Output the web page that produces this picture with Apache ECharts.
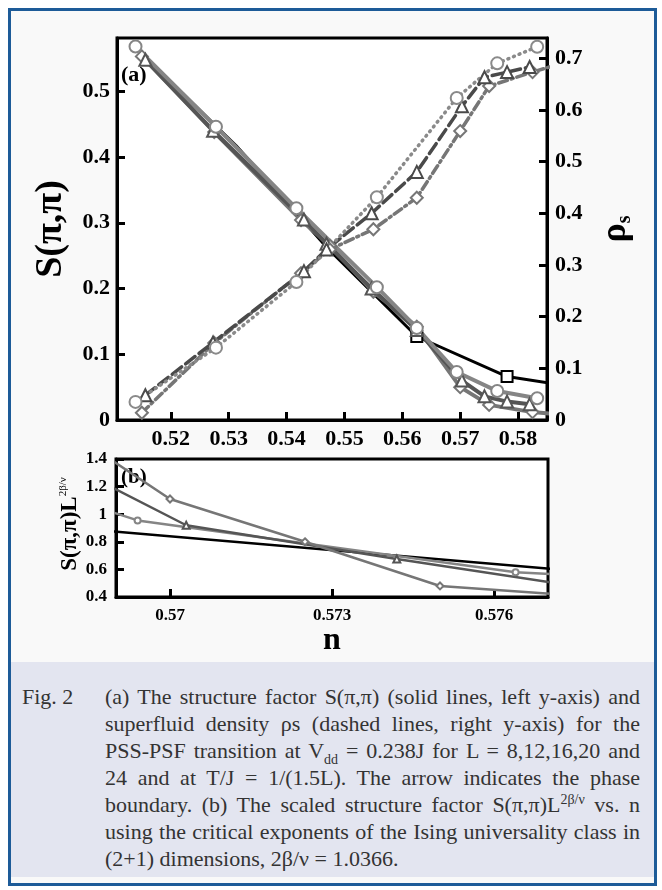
<!DOCTYPE html>
<html>
<head>
<meta charset="utf-8">
<script src="https://cdn.jsdelivr.net/npm/echarts@6/dist/echarts.min.js"></script>
<style>
  html, body { margin: 0; padding: 0; background: #fff; }
  #frame { position: absolute; left: 8px; top: 8px; width: 643px; height: 872px; border: 3px solid #1d5b98; background: #f9f9f9; }
  #chart { position: absolute; left: 0; top: 0; width: 662px; height: 662px; }
  #caption {
    position: absolute; left: 11px; top: 662px; width: 643px; height: 215px;
    background: #e3e5f0; color: #333;
    font-family: 'Liberation Serif', 'Times New Roman', serif; font-size: 22px; line-height: 27px;
  }
  #caption .fig { position: absolute; left: 11px; top: 21px; }
  #caption .body { position: absolute; left: 94px; top: 21px; width: 535px; }
  #caption .ln { text-align: justify; text-align-last: justify; white-space: nowrap; }
  #caption .ln.last { text-align-last: left; }
  #caption sub { font-size: 14px; line-height: 0; vertical-align: -6px; }
  #caption sup { font-size: 14px; line-height: 0; vertical-align: 8px; }
</style>
</head>
<body>
<div id="frame"></div>
<div id="chart"></div>
<div id="caption">
  <div class="fig">Fig. 2</div>
  <div class="body">
    <div class="ln">(a) The structure factor S(π,π) (solid lines, left y-axis) and</div>
    <div class="ln">superfluid density ρs (dashed lines, right y-axis) for the</div>
    <div class="ln">PSS-PSF transition at V<sub>dd</sub> = 0.238J for L = 8,12,16,20 and</div>
    <div class="ln">24 and at T/J = 1/(1.5L). The arrow indicates the phase</div>
    <div class="ln">boundary. (b) The scaled structure factor S(π,π)L<sup>2β/ν</sup> vs. n</div>
    <div class="ln">using the critical exponents of the Ising universality class in</div>
    <div class="ln last">(2+1) dimensions, 2β/ν = 1.0366.</div>
  </div>
</div>
<script>
// panel (a): filling n, structure factor S(pi,pi), superfluid density rho_s
const nL8 = [0.5156, 0.5313, 0.5469, 0.5625, 0.5781, 0.5938]
const sL8 = [0.552, 0.417, 0.263, 0.127, 0.066, 0.045]

const nL12 = [0.5139, 0.5278, 0.5417, 0.5556, 0.5625, 0.5694, 0.5764, 0.5833]
const sL12 = [0.568, 0.446, 0.322, 0.202, 0.140, 0.073, 0.044, 0.033]
const nRhoL12 = [0.5139, 0.5278, 0.5417, 0.5556, 0.5694, 0.5764, 0.5833]
const rhoL12 = [0.035, 0.140, 0.267, 0.431, 0.623, 0.690, 0.722]

const nL16 = [0.5156, 0.5273, 0.5430, 0.5469, 0.5547, 0.5625, 0.5703, 0.5742, 0.5781, 0.5820]
const sL16 = [0.548, 0.440, 0.305, 0.268, 0.200, 0.137, 0.060, 0.036, 0.028, 0.024]
const rhoL16 = [0.048, 0.150, 0.288, 0.330, 0.400, 0.480, 0.607, 0.663, 0.673, 0.683]

const nL20 = [0.5150, 0.5275, 0.5425, 0.5475, 0.5550, 0.5625, 0.5700, 0.5750, 0.5825, 0.5875]
const sL20 = [0.553, 0.438, 0.304, 0.265, 0.195, 0.142, 0.050, 0.023, 0.012, 0.008]
const rhoL20 = [0.014, 0.149, 0.284, 0.330, 0.369, 0.430, 0.559, 0.646, 0.673, 0.690]

// panel (b): scaled structure factor S(pi,pi) L^(2beta/nu)
const nB8 = [0.5625, 0.5781]
const yB8 = [1.09, 0.57]
const nB12 = [0.5625, 0.5694, 0.5764, 0.5833]
const yB12 = [1.83, 0.955, 0.58, 0.43]
const nB16 = [0.5664, 0.5703, 0.5742, 0.5781]
const yB16 = [1.70, 0.92, 0.675, 0.445]
const nB20 = [0.5675, 0.5700, 0.5725, 0.5750, 0.5775]
const yB20 = [1.76, 1.11, 0.80, 0.48, 0.41]

// tick labels
const xTicksA = [0.52, 0.53, 0.54, 0.55, 0.56, 0.57, 0.58]
const yTicksS = [0, 0.1, 0.2, 0.3, 0.4, 0.5]
const yTicksRho = [0, 0.1, 0.2, 0.3, 0.4, 0.5, 0.6, 0.7]
const xTicksB = [0.57, 0.573, 0.576]
const yTicksB = [0.4, 0.6, 0.8, 1, 1.2, 1.4]

const pts = (xs, ys) => xs.map((x, i) => [x, ys[i]])
const serif = 'Liberation Serif'

function axis (extra, ticks, size, margin) {
  return Object.assign({
    type: 'value',
    splitLine: { show: false },
    axisLine: { show: true, lineStyle: { color: '#000', width: 3 } },
    axisTick: { show: true, inside: true, length: 8, lineStyle: { color: '#000', width: 3 }, customValues: ticks },
    axisLabel: {
      customValues: ticks, margin: margin, color: '#000',
      fontFamily: serif, fontWeight: 'bold', fontSize: size,
      formatter: v => String(v)
    }
  }, extra)
}

function sLine (name, data, color, symbol, width, yIdx, type, xIdx, size) {
  return {
    name: name, type: 'line', data: data, xAxisIndex: xIdx || 0, yAxisIndex: yIdx,
    symbol: symbol, symbolSize: size || 12, showAllSymbol: true,
    lineStyle: { color: color, width: width, type: type || 'solid', cap: 'round' },
    itemStyle: { color: color, borderWidth: size ? 2 : 2.5 },
    animation: false, silent: true
  }
}

const chart = echarts.init(document.getElementById('chart'))
chart.setOption({
  animation: false,
  grid: [
    { left: 117, top: 38, width: 430, height: 382, show: true, backgroundColor: '#fff', borderColor: '#000', borderWidth: 3 },
    { left: 116, top: 459, width: 432, height: 138, show: true, backgroundColor: '#fff', borderColor: '#000', borderWidth: 3 }
  ],
  xAxis: [
    axis({ gridIndex: 0, min: 0.5107, max: 0.585 }, xTicksA, 22, 8),
    axis({
      gridIndex: 1, min: 0.569, max: 0.577,
      name: 'n', nameLocation: 'middle', nameGap: 19,
      nameTextStyle: { fontFamily: serif, fontWeight: 'bold', fontSize: 32, color: '#000', verticalAlign: 'top' }
    }, xTicksB, 17, 10)
  ],
  yAxis: [
    axis({
      gridIndex: 0, min: 0, max: 0.581,
      name: 'S(π,π)', nameLocation: 'middle', nameGap: 47,
      nameTextStyle: { fontFamily: serif, fontWeight: 'bold', fontSize: 38, color: '#000' }
    }, yTicksS, 22, 7),
    axis({
      gridIndex: 0, min: 0, max: 0.739, position: 'right',
      name: '{r|ρ}{s|s}', nameLocation: 'middle', nameGap: 50,
      nameTextStyle: {
        color: '#000',
        rich: {
          r: { fontFamily: serif, fontWeight: 'bold', fontSize: 36, color: '#000' },
          s: { fontFamily: serif, fontWeight: 'bold', fontSize: 20, color: '#000', padding: [18, 0, 0, 0] }
        }
      }
    }, yTicksRho, 22, 8),
    axis({ gridIndex: 1, min: 0.4, max: 1.4 }, yTicksB, 17, 9)
  ],
  graphic: [
    { type: 'text', left: 121, top: 64, style: { text: '(a)', font: 'bold 22px "Liberation Serif"', fill: '#000' } },
    { type: 'text', left: 121, top: 467, style: { text: '(b)', font: 'bold 21px "Liberation Serif"', fill: '#000' } },
    {
      type: 'text', x: 70, y: 524, rotation: Math.PI / 2,
      style: {
        text: '{m|S(π,π)L}{u|2β/ν}', align: 'center', verticalAlign: 'middle',
        rich: {
          m: { fontFamily: serif, fontWeight: 'bold', fontSize: 23, fill: '#000' },
          u: { fontFamily: serif, fontSize: 11, fill: '#000', padding: [0, 0, 13, 0] }
        }
      }
    }
  ],
  series: [
    Object.assign(sLine('L8', pts(nL8, sL8), '#000', 'emptyRect', 3, 0), {
      symbol: v => (v[0] > 0.555 ? 'emptyRect' : 'none'), symbolSize: 11
    }),
    sLine('L20 S', pts(nL20, sL20), '#767676', 'emptyDiamond', 4, 0),
    sLine('L16 S', pts(nL16, sL16), '#555', 'emptyTriangle', 4, 0),
    sLine('L12 S', pts(nL12, sL12), '#858585', 'emptyCircle', 4, 0),
    sLine('L20 rho', pts(nL20, rhoL20), '#767676', 'emptyDiamond', 3.5, 1, [9, 4, 2, 4]),
    sLine('L16 rho', pts(nL16, rhoL16), '#4a4a4a', 'emptyTriangle', 3.5, 1, [12, 5]),
    sLine('L12 rho', pts(nRhoL12, rhoL12), '#8a8a8a', 'emptyCircle', 3.5, 1, [1, 5]),
    Object.assign(sLine('L8 b', pts(nB8, yB8), '#000', 'none', 2.5, 2, 'solid', 1, 6), { symbol: 'none' }),
    sLine('L12 b', pts(nB12, yB12), '#858585', 'emptyCircle', 2.5, 2, 'solid', 1, 6),
    sLine('L16 b', pts(nB16, yB16), '#555', 'emptyTriangle', 2.5, 2, 'solid', 1, 7),
    sLine('L20 b', pts(nB20, yB20), '#767676', 'emptyDiamond', 2.5, 2, 'solid', 1, 7)
  ]
})
</script>
</body>
</html>
